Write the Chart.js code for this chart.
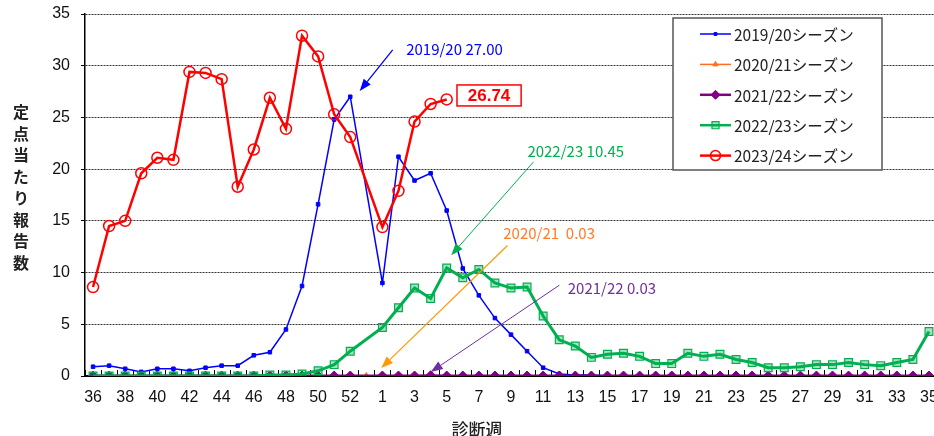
<!DOCTYPE html>
<html lang="ja">
<head>
<meta charset="utf-8">
<script src="https://cdn.jsdelivr.net/npm/chart.js@4.4.1/dist/chart.umd.min.js"></script>
<style>
html, body { margin: 0; padding: 0; background: #fff; overflow: hidden; width: 934px; height: 436px; }
#wrap { position: relative; width: 934px; height: 436px; overflow: hidden; }
#myChart { position: absolute; left: 0; top: 0; }
#ytitle { position: absolute; left: 9px; top: 104px; writing-mode: vertical-rl; font: bold 16px "Noto Sans CJK JP"; letter-spacing: 5.5px; color: #222; }
#xtitle { position: absolute; left: 417px; width: 120px; top: 416px; text-align: center; font: 500 17px "Noto Sans CJK JP"; color: #222; }
</style>
</head>
<body>
<div id="wrap">
  <canvas id="myChart" width="944" height="436"></canvas>
  <div id="ytitle">定点当たり報告数</div>
  <div id="xtitle">診断週</div>
</div>
<script>
// 診断週 (36週〜53週, 1週〜35週)
const weeks = ['36','37','38','39','40','41','42','43','44','45','46','47','48','49','50','51','52','53',
  '1','2','3','4','5','6','7','8','9','10','11','12','13','14','15','16','17','18','19','20',
  '21','22','23','24','25','26','27','28','29','30','31','32','33','34','35'];

const seasonLabels = ['2019/20シーズン', '2020/21シーズン', '2021/22シーズン', '2022/23シーズン', '2023/24シーズン'];

const s1920 = [0.9,1.0,0.7,0.4,0.7,0.7,0.5,0.8,1.0,1.0,2.0,2.3,4.5,8.7,16.6,24.8,27.0,null,
  9.0,21.2,18.9,19.6,16.0,10.4,7.8,5.6,4.0,2.4,0.8,0.2,0.1,0.1,0.0,0.0,0.0,0.0,0.0,0.0,
  0.0,0.0,0.0,0.0,0.0,0.0,0.0,0.0,0.0,0.0,0.0,0.0,0.0,0.0,0.0];

const s2021 = [0.0,0.0,0.0,0.0,0.0,0.0,0.0,0.0,0.0,0.0,0.0,0.0,0.0,0.0,0.0,0.0,0.0,0.0,
  0.03,0.0,0.0,0.0,0.0,0.0,0.0,0.0,0.0,0.0,0.0,0.0,0.0,0.0,0.0,0.0,0.0,0.0,0.0,0.0,
  0.0,0.0,0.0,0.0,0.0,0.0,0.0,0.0,0.0,0.0,0.0,0.0,0.0,0.0,0.0];

const s2122 = [0.0,0.0,0.0,0.0,0.0,0.0,0.0,0.0,0.0,0.0,0.0,0.0,0.0,0.0,0.0,0.0,0.0,null,
  0.0,0.0,0.0,0.03,0.0,0.0,0.0,0.0,0.0,0.0,0.0,0.0,0.0,0.0,0.0,0.0,0.0,0.0,0.0,0.0,
  0.0,0.0,0.0,0.0,0.0,0.0,0.0,0.0,0.0,0.0,0.0,0.0,0.0,0.0,0.0];

const s2223 = [0.0,0.0,0.0,0.0,0.0,0.0,0.0,0.0,0.0,0.0,0.0,0.1,0.1,0.2,0.5,1.1,2.4,null,
  4.7,6.6,8.5,7.5,10.45,9.5,10.3,9.0,8.5,8.6,5.8,3.5,2.9,1.8,2.1,2.2,1.9,1.2,1.2,2.2,
  1.9,2.1,1.6,1.3,0.8,0.8,0.9,1.1,1.1,1.3,1.1,1.0,1.3,1.6,4.3];

const s2324 = [8.6,14.5,15.0,19.6,21.1,20.9,29.4,29.3,28.7,18.3,21.9,26.9,23.9,32.9,30.9,25.3,23.1,null,
  14.4,17.9,24.6,26.3,26.74];

const yTicks = [0, 5, 10, 15, 20, 25, 30, 35];

// 注記 (x = 週のインデックス, y = 報告数)
const notes = [
  { text: '2019/20 27.00', color: '#0000ff', at: [19.48, 31.6], from: [18.64, 31.53], to: [16.59, 27.56], lw: 1.3 },
  { text: '2022/23 10.45', color: '#00b050', at: [27.02, 21.68], from: [27.4, 20.7], to: [22.28, 11.68], lw: 1 },
  { text: '2020/21  0.03', color: '#ff7c2a', arrowColor: '#ff9900', at: [25.52, 13.78], from: [25.78, 12.62], to: [17.93, 0.77], lw: 1.2 },
  { text: '2021/22 0.03', color: '#7030a0', at: [29.53, 8.52], from: [29.01, 8.78], to: [21.01, 0.39], lw: 1 }
];

const drawArrow = (ctx, x1, y1, x2, y2, color, lw) => {
  const ang = Math.atan2(y2 - y1, x2 - x1);
  const head = 12, half = 4.5;
  ctx.save();
  ctx.strokeStyle = color;
  ctx.fillStyle = color;
  ctx.lineWidth = lw;
  ctx.beginPath();
  ctx.moveTo(x1, y1);
  ctx.lineTo(x2 - Math.cos(ang) * head, y2 - Math.sin(ang) * head);
  ctx.stroke();
  ctx.beginPath();
  ctx.moveTo(x2, y2);
  ctx.lineTo(x2 - Math.cos(ang) * head - Math.sin(ang) * half, y2 - Math.sin(ang) * head + Math.cos(ang) * half);
  ctx.lineTo(x2 - Math.cos(ang) * head + Math.sin(ang) * half, y2 - Math.sin(ang) * head - Math.cos(ang) * half);
  ctx.closePath();
  ctx.fill();
  ctx.restore();
};

// x軸の内向き目盛り
const innerTicks = {
  id: 'innerTicks',
  beforeDatasetsDraw(chart) {
    const { ctx, scales: { x, y } } = chart;
    const step = x.getPixelForValue(1) - x.getPixelForValue(0);
    const base = y.getPixelForValue(0);
    ctx.save();
    ctx.strokeStyle = '#000';
    ctx.lineWidth = 1;
    ctx.beginPath();
    for (let i = 0; i <= weeks.length; i++) {
      const px = Math.round(x.getPixelForValue(i) - step / 2) + 0.5;
      ctx.moveTo(px, base);
      ctx.lineTo(px, base - 6);
    }
    ctx.stroke();
    ctx.restore();
  }
};

// 注記と凡例
const overlay = {
  id: 'overlay',
  afterDatasetsDraw(chart) {
    const { ctx, scales: { x, y }, chartArea } = chart;
    const px = (v) => x.getPixelForValue(0) + v * (x.getPixelForValue(1) - x.getPixelForValue(0));
    const py = (v) => y.getPixelForValue(v);

    notes.forEach((n) => {
      drawArrow(ctx, px(n.from[0]), py(n.from[1]), px(n.to[0]), py(n.to[1]), n.arrowColor || n.color, n.lw);
      ctx.save();
      ctx.font = '15px "Noto Sans CJK JP"';
      ctx.fillStyle = n.color;
      ctx.textAlign = 'left';
      ctx.textBaseline = 'middle';
      ctx.fillText(n.text, px(n.at[0]), py(n.at[1]));
      ctx.restore();
    });

    // 最新値 26.74
    const bx1 = px(22.64), bx2 = px(26.63), by1 = py(28.14), by2 = py(26.11);
    ctx.save();
    ctx.fillStyle = '#fff';
    ctx.fillRect(bx1, by1, bx2 - bx1, by2 - by1);
    ctx.strokeStyle = '#ff0000';
    ctx.lineWidth = 1.5;
    ctx.strokeRect(bx1, by1, bx2 - bx1, by2 - by1);
    ctx.fillStyle = '#ff0000';
    ctx.font = 'bold 17px "Liberation Sans"';
    ctx.textAlign = 'center';
    ctx.textBaseline = 'middle';
    ctx.fillText(s2324[22].toFixed(2), (bx1 + bx2) / 2, (by1 + by2) / 2 + 1);
    ctx.restore();

    // 凡例
    const lx = chartArea.left + 588, ly = chartArea.top + 4, lw = 209, lh = 152;
    ctx.save();
    ctx.fillStyle = '#fff';
    ctx.fillRect(lx, ly, lw, lh);
    ctx.strokeStyle = '#555';
    ctx.lineWidth = 1.5;
    ctx.strokeRect(lx, ly, lw, lh);
    chart.data.datasets.forEach((ds, i) => {
      const rowY = ly + 16 + i * 30.4;
      ctx.strokeStyle = ds.borderColor;
      ctx.lineWidth = Math.min(ds.borderWidth, 2.5);
      ctx.beginPath();
      ctx.moveTo(lx + 27, rowY);
      ctx.lineTo(lx + 58, rowY);
      ctx.stroke();
      ctx.fillStyle = ds.pointBackgroundColor;
      ctx.strokeStyle = ds.borderColor;
      ctx.lineWidth = ds.pointBorderWidth;
      Chart.helpers.drawPoint(ctx, { pointStyle: ds.pointStyle, radius: ds.pointRadius - 0.5, borderWidth: ds.pointBorderWidth, rotation: 0 }, lx + 42.5, rowY);
      ctx.fillStyle = '#222';
      ctx.font = '15.5px "Noto Sans CJK JP"';
      ctx.textAlign = 'left';
      ctx.textBaseline = 'middle';
      ctx.fillText(ds.label, lx + 61, rowY + 1);
    });
    ctx.restore();
  }
};

const ctx = document.getElementById('myChart').getContext('2d');
const myChart = new Chart(ctx, {
  type: 'line',
  data: {
    labels: weeks,
    datasets: [
      { label: seasonLabels[0], data: s1920, borderColor: '#0000ff', borderWidth: 1.5,
        pointStyle: 'rect', pointRadius: 2.5, pointBorderWidth: 1, pointBackgroundColor: '#0000ff', spanGaps: true, order: 5 },
      { label: seasonLabels[1], data: s2021, borderColor: '#ff6f1f', borderWidth: 1.5,
        pointStyle: 'triangle', pointRadius: 3.5, pointBorderWidth: 1, pointBackgroundColor: '#ff6f1f', spanGaps: true, order: 4 },
      { label: seasonLabels[2], data: s2122, borderColor: '#800080', borderWidth: 3,
        pointStyle: 'rectRot', pointRadius: 5, pointBorderWidth: 1, pointBackgroundColor: '#800080', spanGaps: true, order: 3 },
      { label: seasonLabels[3], data: s2223, borderColor: '#00b050', borderWidth: 3,
        pointStyle: 'rect', pointRadius: 5.5, pointBorderWidth: 1.2, pointBackgroundColor: 'rgba(0,176,80,0.35)', spanGaps: true, order: 2 },
      { label: seasonLabels[4], data: s2324, borderColor: '#ff0000', borderWidth: 2.5,
        pointStyle: 'circle', pointRadius: 5.5, pointBorderWidth: 1.5, pointBackgroundColor: 'rgba(255,255,255,0)', spanGaps: true, order: 1 }
    ]
  },
  options: {
    responsive: false,
    animation: false,
    layout: { padding: { top: 14, right: 0, left: 0, bottom: 0 } },
    elements: { line: { tension: 0 } },
    plugins: { legend: { display: false }, tooltip: { enabled: false } },
    scales: {
      x: {
        offset: true,
        grid: { display: false, drawTicks: false },
        border: { display: true, color: '#000', width: 2 },
        ticks: {
          autoSkip: false, maxRotation: 0, padding: 12, color: '#111',
          font: { family: 'Liberation Sans', size: 16 },
          callback: (v, i) => (i % 2 === 0 ? weeks[i] : '')
        },
        afterFit: (s) => { s.height = 60; s.paddingLeft = 0; s.paddingRight = 0; }
      },
      y: {
        min: 0, max: 35,
        afterBuildTicks: (s) => { s.ticks = yTicks.map((v) => ({ value: v })); },
        grid: { color: '#333', lineWidth: 1, tickLength: 4, tickColor: '#000' },
        border: { display: true, color: '#000', width: 1.5, dash: [2, 1] },
        ticks: { padding: 11, color: '#111', font: { family: 'Liberation Sans', size: 16 } },
        afterFit: (s) => { s.width = 85; s.paddingTop = 0; s.paddingBottom = 0; }
      }
    }
  },
  plugins: [innerTicks, overlay]
});
</script>
</body>
</html>
